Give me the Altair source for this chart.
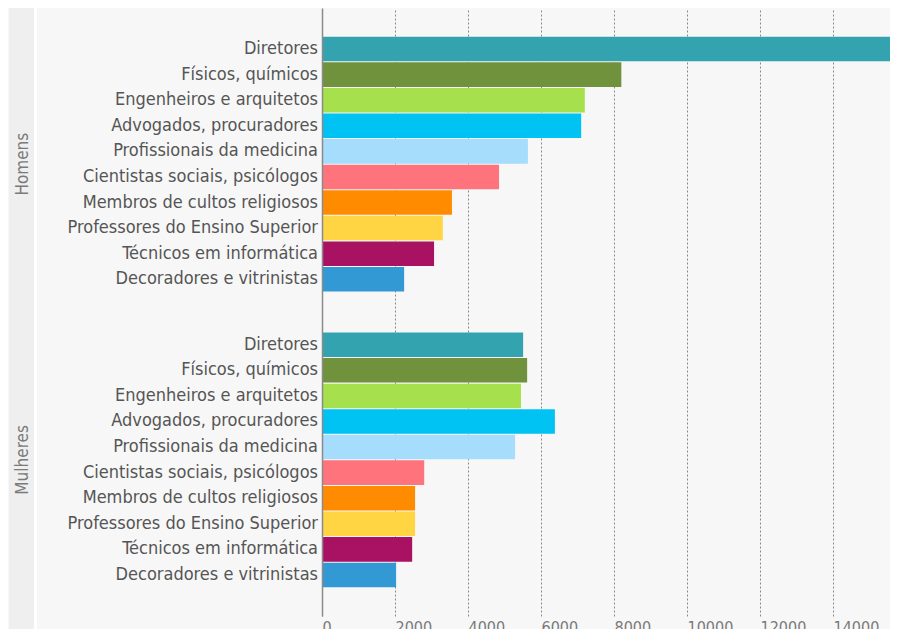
import altair as alt
import pandas as pd

categories = [
    "Diretores",
    "Físicos, químicos",
    "Engenheiros e arquitetos",
    "Advogados, procuradores",
    "Profissionais da medicina",
    "Cientistas sociais, psicólogos",
    "Membros de cultos religiosos",
    "Professores do Ensino Superior",
    "Técnicos em informática",
    "Decoradores e vitrinistas",
]
groups = ["Homens", "Mulheres"]
homens = [15700, 8200, 7200, 7100, 5640, 4850, 3560, 3310, 3070, 2250]
mulheres = [5510, 5620, 5450, 6380, 5290, 2800, 2550, 2550, 2470, 2030]
colors = ["#33a3b0", "#70923c", "#a6e04c", "#00c2f3", "#a6ddfc",
          "#ff737c", "#ff8c00", "#ffd544", "#a91263", "#3399d4"]
x_ticks = [0, 2000, 4000, 6000, 8000, 10000, 12000, 14000]

rows = []
for g, vals in zip(groups, [homens, mulheres]):
    for c, v in zip(categories, vals):
        rows.append({"grupo": g, "ocupacao": c, "valor": v})
df = pd.DataFrame(rows)

LABEL_FONT = "DejaVu Sans Condensed, Liberation Sans Narrow, sans-serif"

y_enc = alt.Y(
    "grupo:N",
    sort=groups,
    scale=alt.Scale(domain=groups, paddingInner=0, paddingOuter=0.028),
    axis=alt.Axis(
        title=None, ticks=False, tickSize=0, labelAngle=-90,
        labelAlign="center", labelBaseline="middle", labelPadding=300,
        labelFont=LABEL_FONT, labelFontSize=17, labelColor="#7a7a7a",
        domainColor="#8a8a8a", domainWidth=1.5, grid=False, zindex=1,
    ),
)
yoff_enc = alt.YOffset(
    "ocupacao:N",
    sort=categories,
    scale=alt.Scale(domain=categories, paddingInner=0.04, paddingOuter=0.8),
)

base = alt.Chart(df)

bars = base.mark_bar(clip=True).encode(
    x=alt.X(
        "valor:Q",
        scale=alt.Scale(domain=[0, 15560], nice=False),
        axis=alt.Axis(
            title=None, values=x_ticks, format="d", ticks=False, domain=False,
            grid=True, gridColor="#8a8a8a", gridDash=[2, 2], gridWidth=1,
            labelAlign="left", labelBaseline="top", labelPadding=3,
            labelFont=LABEL_FONT, labelFontSize=16, labelColor="#7a7a7a",
            zindex=0,
        ),
    ),
    y=y_enc,
    yOffset=yoff_enc,
    color=alt.Color("ocupacao:N", sort=categories,
                    scale=alt.Scale(domain=categories, range=colors),
                    legend=None),
)

labels = base.mark_text(
    align="right", baseline="middle", font=LABEL_FONT, fontSize=18,
    color="#555555",
).encode(
    x=alt.value(-4),
    y=y_enc,
    yOffset=yoff_enc,
    text="ocupacao:N",
)

strip_data = alt.Data(values=[{"k": 1}])
strip = alt.Chart(strip_data).mark_rect(color="#efefef").encode(
    x=alt.value(-313), x2=alt.value(-288),
    y=alt.value(0), y2=alt.value(660),
)
gap = alt.Chart(strip_data).mark_rect(color="#ffffff").encode(
    x=alt.value(-288), x2=alt.value(-285),
    y=alt.value(0), y2=alt.value(660),
)

chart = alt.layer(strip, gap, bars, labels).properties(
    width=568, height=608,
    autosize=alt.AutoSizeParams(type="none"),
    padding={"left": 314, "top": 0, "right": 0, "bottom": 30},
    background="#f7f7f7",
).configure_view(stroke=None, fill=None)

chart.save("out.html", embed_options={"renderer": "svg", "actions": False})
